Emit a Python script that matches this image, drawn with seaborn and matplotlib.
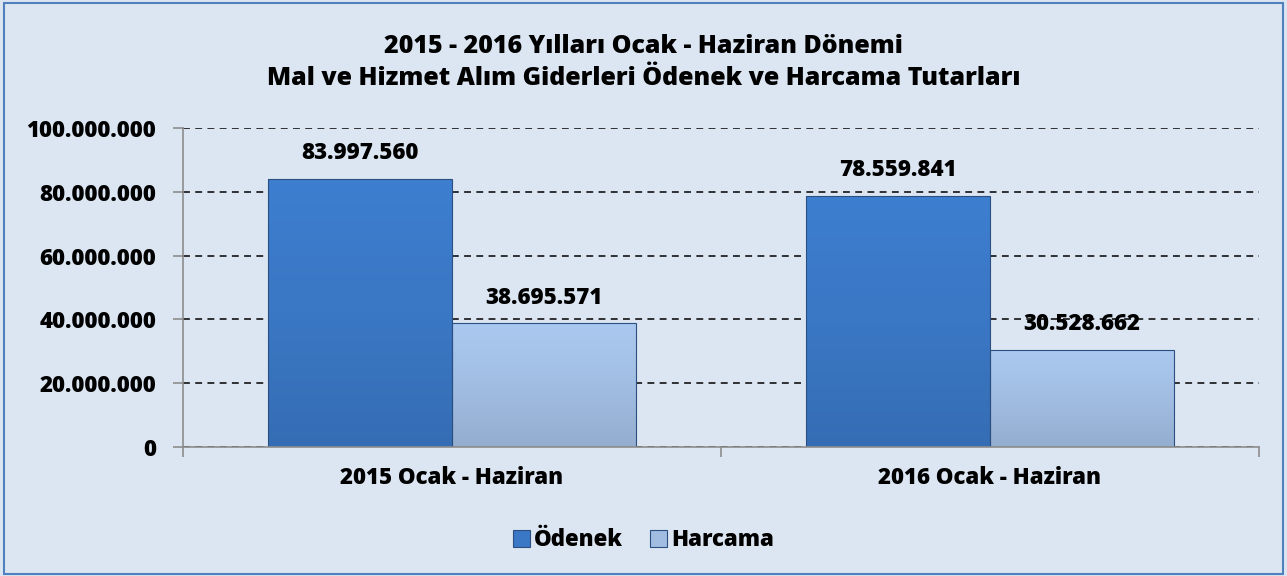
import matplotlib
matplotlib.use("Agg")
from matplotlib import pyplot as plt
from matplotlib.patches import Rectangle
from matplotlib.ticker import FuncFormatter, FixedLocator
from matplotlib.colors import LinearSegmentedColormap, to_rgb
import seaborn as sns
import pandas as pd
import numpy as np

# data
donemler = ["2015 Ocak - Haziran", "2016 Ocak - Haziran"]
odenek = [83997560, 78559841]
harcama = [38695571, 30528662]
seriler = ["Ödenek", "Harcama"]

df = pd.DataFrame({
    "donem": donemler * 2,
    "tur": [seriler[0]] * 2 + [seriler[1]] * 2,
    "tutar": odenek + harcama,
})

sns.set_style("white")
plt.rcParams["font.family"] = ["Open Sans", "DejaVu Sans"]
plt.rcParams["font.weight"] = "heavy"
plt.rcParams["text.color"] = "black"
plt.rcParams["xtick.color"] = "black"
plt.rcParams["ytick.color"] = "black"
W = "heavy"

bg = "#DCE6F2"
fig = plt.figure(figsize=(12.87, 5.76), dpi=100, facecolor=bg)
ax = fig.add_axes([0.142, 0.224, 0.836, 0.554])
ax.set_facecolor(bg)

sns.barplot(data=df, x="donem", y="tutar", hue="tur", ax=ax,
            palette=["#3A77C4", "#A1BDE2"], saturation=1, width=0.684, gap=0,
            edgecolor="#2A4F80", linewidth=0.8, legend=True)


def nokta(v, pos=None):
    return f"{int(round(v)):,}".replace(",", ".")


for c in ax.containers:
    ax.bar_label(c, labels=[nokta(v) for v in c.datavalues], padding=10,
                 fontsize=16, fontweight=W)

leg = ax.legend(loc="center", bbox_to_anchor=(0.5, 0.062),
                bbox_transform=fig.transFigure, ncol=2, frameon=False,
                handlelength=0.75, handleheight=0.75, handletextpad=0.2,
                columnspacing=1.2, prop={"size": 16, "weight": W})

# soft vertical shading on the bars, like the original
for p in ax.patches:
    r, g, b = to_rgb(p.get_facecolor())
    top = tuple(min(1, v * 1.06) for v in (r, g, b))
    bot = tuple(v * 0.92 for v in (r, g, b))
    cmap = LinearSegmentedColormap.from_list("g", [bot, (r, g, b), top])
    x0, y0 = p.get_x(), p.get_y()
    x1, y1 = x0 + p.get_width(), y0 + p.get_height()
    im = ax.imshow(np.linspace(0, 1, 64).reshape(-1, 1), cmap=cmap, origin="lower",
                   extent=[x0, x1, y0, y1], aspect="auto", zorder=p.get_zorder(),
                   interpolation="bilinear")
    im.set_clip_path(p)
    p.set_facecolor("none")
    p.set_zorder(p.get_zorder() + 0.2)

ax.set_ylim(0, 100000000)
ax.set_yticks(range(0, 100000001, 20000000))
ax.yaxis.set_major_formatter(FuncFormatter(nokta))
ax.set_xlim(-0.5, 1.5)
ax.grid(axis="y", color="black", linestyle=(0, (4.5, 3.5)), linewidth=1.1)
ax.set_axisbelow(True)
ax.tick_params(axis="y", labelsize=16, length=7, color="#8C8C8C", labelcolor="black",
               width=1.2, direction="out", left=True, pad=12)
ax.tick_params(axis="x", labelsize=16, length=0, pad=14, labelcolor="black")
ax.xaxis.set_minor_locator(FixedLocator([-0.5, 0.5, 1.5]))
ax.tick_params(axis="x", which="minor", length=7, color="#8C8C8C", width=1.2,
               direction="out", bottom=True)
for lbl in ax.get_xticklabels() + ax.get_yticklabels():
    lbl.set_fontweight(W)
for s in ["top", "right"]:
    ax.spines[s].set_visible(False)
for s in ["left", "bottom"]:
    ax.spines[s].set_color("#8C8C8C")
    ax.spines[s].set_linewidth(1.2)
ax.set_xlabel("")
ax.set_ylabel("")

fig.text(0.5, 0.92, "2015 - 2016 Yılları Ocak - Haziran Dönemi",
         ha="center", va="center", fontsize=18, fontweight=W)
fig.text(0.5, 0.864, "Mal ve Hizmet Alım Giderleri Ödenek ve Harcama Tutarları",
         ha="center", va="center", fontsize=18, fontweight=W)

fig.patches.append(Rectangle((0.003, 0.004), 0.994, 0.99, transform=fig.transFigure,
                             fill=False, edgecolor="#4F81BD", linewidth=1.5))

fig.savefig("out.png", dpi=100, facecolor=bg)
